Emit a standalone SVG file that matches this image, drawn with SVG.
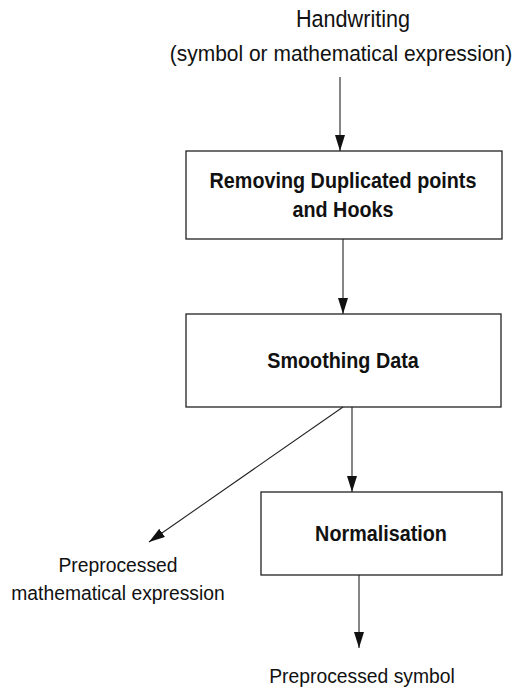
<svg xmlns="http://www.w3.org/2000/svg" width="515" height="689" viewBox="0 0 515 689">
  <style>
    .box { fill: #ffffff; stroke: #222222; stroke-width: 1.3; }
    .lbl { font-family: "Liberation Sans", Arial, sans-serif; font-weight: bold; font-size: 21.5px; fill: #111111; text-anchor: middle; }
    .txt { font-family: "Liberation Sans", Arial, sans-serif; font-size: 21px; fill: #111111; text-anchor: middle; }
    .edge { fill: none; stroke: #222222; stroke-width: 1.1; marker-end: url(#arrow); }
  </style>
  <defs>
    <marker id="arrow" markerUnits="userSpaceOnUse" markerWidth="18" markerHeight="12" refX="16" refY="5" orient="auto">
      <path d="M0,0 L16,5 L0,10 Z" fill="#111111"/>
    </marker>
  </defs>
  <rect width="515" height="689" fill="#ffffff"/>

  <g id="input">
    <text class="txt" transform="translate(353,27) scale(0.92,1)" style="font-size:23.5px">Handwriting</text>
    <text class="txt" transform="translate(341,61) scale(0.92,1)" style="font-size:22.8px">(symbol or mathematical expression)</text>
  </g>

  <g id="node-remove">
    <rect class="box" x="186" y="151" width="316" height="88"/>
    <text class="lbl" transform="translate(343,188) scale(0.92,1)">Removing Duplicated points</text>
    <text class="lbl" transform="translate(343,217) scale(0.92,1)">and Hooks</text>
  </g>

  <g id="node-smooth">
    <rect class="box" x="186" y="314" width="315" height="93"/>
    <text class="lbl" transform="translate(343,368) scale(0.92,1)">Smoothing Data</text>
  </g>

  <g id="node-normal">
    <rect class="box" x="261" y="492" width="241" height="83"/>
    <text class="lbl" transform="translate(381,541) scale(0.92,1)">Normalisation</text>
  </g>

  <g id="out-expr">
    <text class="txt" transform="translate(118,572) scale(0.92,1)">Preprocessed</text>
    <text class="txt" transform="translate(118,600) scale(0.92,1)">mathematical expression</text>
  </g>

  <g id="out-symbol">
    <text class="txt" transform="translate(362,683) scale(0.92,1)">Preprocessed symbol</text>
  </g>

  <g id="connectors">
    <line class="edge" x1="340" y1="77" x2="340" y2="151"/>
    <line class="edge" x1="343" y1="239" x2="343" y2="314"/>
    <line class="edge" x1="352" y1="407" x2="352" y2="492"/>
    <line class="edge" x1="343" y1="407" x2="149" y2="542"/>
    <line class="edge" x1="359" y1="575" x2="359" y2="648"/>
  </g>
</svg>
